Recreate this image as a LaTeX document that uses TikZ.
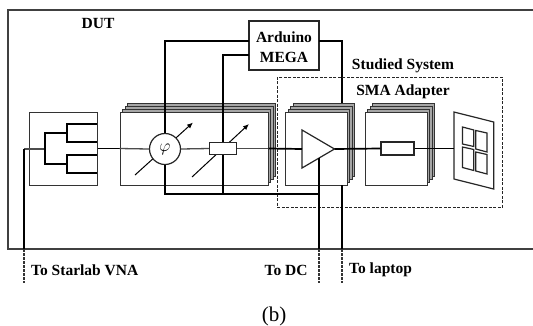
\documentclass[tikz,border=0pt]{standalone}
\usepackage{fontspec}
\setmainfont{Liberation Serif}
\usepackage{tikz}
\usetikzlibrary{positioning}
\usetikzlibrary{arrows.meta}
\tikzset{
  frame/.style = {draw=black!75, line width=1.1pt},
  card/.style = {draw=black!80, fill=white, line width=1pt, minimum width=#1, minimum height=73pt, inner sep=0pt},
  back/.style = {draw=black!80, fill=black!35, line width=1pt, minimum width=#1, minimum height=73pt, inner sep=0pt},
  part/.style = {draw=black!85, fill=white, line width=1.2pt, inner sep=0pt},
  bus/.style = {draw=black, line width=1.7pt},
  wire/.style = {draw=black!70, line width=1.3pt},
  ptr/.style = {draw=black, line width=1pt, -{Latex[length=6pt,width=5pt]}},
  ext/.style = {draw=black!80, line width=1.2pt, dash pattern=on 2.5pt off 1.5pt},
  lbl/.style = {font=\fontsize{15.5}{17}\selectfont\bfseries, inner sep=0pt}
}
\begin{document}
\begin{tikzpicture}[x=1pt, y=-1pt]
  \useasboundingbox (0,0) rectangle (533,325);
  % Frame
  \draw[frame] (533,10) -- (8,10) -- (8,249) -- (533,249);
  % Free ends
  \coordinate (ardA) at (249,41);
  \coordinate (ardB) at (249,55);
  \coordinate (ardC) at (319,41);
  \coordinate (logicTop) at (342,103);
  \coordinate (logicBot) at (342,185);
  \coordinate (logicOut) at (342,249);
  \coordinate (logicEnd) at (342,283);
  \coordinate (dcTop) at (319,158);
  \coordinate (dcOut) at (319,249);
  \coordinate (dcEnd) at (319,283);
  \coordinate (vnaTop) at (24,149);
  \coordinate (vnaOut) at (24,249);
  \coordinate (vnaEnd) at (24,283);
  \coordinate (ampIn) at (302,149);
  \coordinate (ampOut) at (334.5,149);
  \coordinate (ampUp) at (302,130);
  \coordinate (ampDown) at (302,168);
  % Nodes
  \node[part, minimum width=70pt, minimum height=49pt] (arduino) at (284,45.5) {};
  \node[lbl] (ardText) at (284,37.5) {Arduino};
  \node[lbl] (megaText) at (284,57) {MEGA};
  \draw[bus] (ardC) -| (logicTop);
  \foreach \i/\dx/\dy in {3/7.8/-9, 2/5.2/-6, 1/2.6/-3} {
    \node[back=148pt] (psStack\i) at (194+\dx,148.5+\dy) {};
    \node[back=61.5pt] (ampStack\i) at (316.3+\dx,148.5+\dy) {};
    \node[back=62pt] (filtStack\i) at (396+\dx,148.5+\dy) {};
  }
  \node[card=68pt] (split) at (63,148.5) {};
  \node[card=148pt] (psCard) at (194,148.5) {};
  \node[card=61.5pt] (ampCard) at (316.3,148.5) {};
  \node[card=62pt] (filtCard) at (396,148.5) {};
  \coordinate (lowA) at (135,175);
  \coordinate (highA) at (193,122.5);
  \coordinate (lowB) at (192,177);
  \coordinate (highB) at (249,124);
  \draw[ptr] (lowA) -- (highA);
  \draw[ptr] (lowB) -- (highB);
  \node[part, circle, minimum size=31pt] (phase) at (165,149) {\fontsize{16}{16}\selectfont$\varphi$};
  \node[part, minimum width=26.5pt, minimum height=12.5pt] (atten) at (223,148.5) {};
  \node[part, minimum width=33pt, minimum height=13pt] (filter) at (397.5,148.5) {};
  % Splitter tree
  \coordinate (forkL) at (45,149);
  \coordinate (forkA) at (67,133);
  \coordinate (forkB) at (67,164);
  \coordinate (portA) at (97,124);
  \coordinate (portB) at (97,142);
  \coordinate (portC) at (97,155);
  \coordinate (portD) at (97,173);
  \draw[wire] (vnaTop) -- (forkL);
  \draw[bus] (forkA) -| (forkL |- forkB) -- (forkB);
  \draw[bus] (portA) -| (forkA |- portB) -- (portB);
  \draw[bus] (portC) -| (forkB |- portD) -- (portD);
  % Panel
  \coordinate (panelA) at (454,112);
  \coordinate (panelB) at (493.7,122);
  \coordinate (panelC) at (493.7,189);
  \coordinate (panelD) at (454,179);
  \draw[part] (panelA) -- (panelB) -- (panelC) -- (panelD) -- cycle;
  \draw[part] (462.5,127) -- (473.8,130) -- (473.8,146.5) -- (462.5,144) -- cycle;
  \draw[part] (475.8,130.5) -- (487,133) -- (487,152) -- (475.8,149) -- cycle;
  \draw[part] (462.5,147) -- (473.8,149.5) -- (473.8,170.5) -- (462.5,167.5) -- cycle;
  \draw[part] (475.8,152) -- (487,154.5) -- (487,174) -- (475.8,171) -- cycle;
  % Amplifier
  \draw[part] (ampUp) -- (ampOut) -- (ampDown) -- cycle;
  % Studied system
  \node[draw=black!85, line width=1pt, dashed, dash pattern=on 3pt off 1.5pt, minimum width=225.5pt, minimum height=130pt, inner sep=0pt] (studied) at (390.2,142) {};
  % Labels
  \node[lbl] (dutText) at (98,23.5) {DUT};
  \node[lbl] (studiedText) at (403,66) {Studied System};
  \node[lbl] (smaText) at (403,91.5) {SMA Adapter};
  \node[lbl, anchor=west] (vnaText) at (31,270) {To Starlab VNA};
  \node[lbl, anchor=west] (dcText) at (264.5,270) {To DC};
  \node[lbl, anchor=west] (laptopText) at (349,270) {To laptop};
  \node[font=\fontsize{21}{23}\selectfont, inner sep=0pt] (caption) at (274,316) {(b)};
  % Edges
  \draw[bus] (ardA) -| (phase.north);
  \draw[bus] (ardB) -| (atten.north);
  \draw[bus] (split.east) -- (psCard.west);
  \draw[wire] (psCard.west) -- (phase.west);
  \draw[wire] (phase.east) -- (atten.west);
  \draw[wire] (atten.east) -- (psCard.east);
  \draw[bus] (psCard.east) -- (ampIn);
  \draw[bus] (ampOut) -- (filter.west);
  \draw[bus] (filter.east) -- (panelA |- filter.east);
  \draw[bus] (phase.south) |- (dcTop |- 0,194) -- (dcTop);
  \draw[bus] (atten.south) -- (atten.south |- 0,194);
  \draw[bus] (dcTop) -- (dcOut);
  \draw[bus] (logicBot) -- (logicOut);
  \draw[bus] (vnaTop) -- (vnaOut);
  \draw[ext] (vnaOut) -- (vnaEnd);
  \draw[ext] (dcOut) -- (dcEnd);
  \draw[ext] (logicOut) -- (logicEnd);
\end{tikzpicture}
\end{document}
